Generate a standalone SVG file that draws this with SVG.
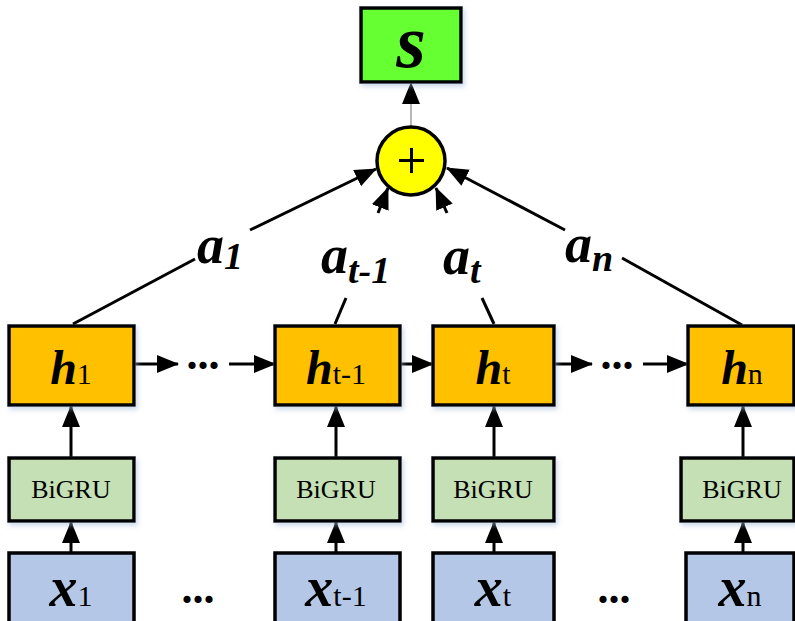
<svg xmlns="http://www.w3.org/2000/svg" width="795" height="621" viewBox="0 0 795 621">
<style>
.box{stroke:#000;stroke-width:3.5}
.h{fill:#FFC000}
.g{fill:#C5E0B4}
.x{fill:#B4C7E7}
.ln{stroke:#000;stroke-width:3;fill:none}
text{font-family:'Liberation Serif','Times New Roman','DejaVu Serif',serif;fill:#000}
.bi{font-weight:bold;font-style:italic}
.rg{font-weight:normal;font-style:normal}
</style>
<defs>
<marker id="ar" markerUnits="userSpaceOnUse" markerWidth="22" markerHeight="20" refX="21" refY="10" orient="auto">
<path d="M0,1 L22,10 L0,19 Z" fill="#000"/>
</marker>
<filter id="sh" x="-10%" y="-10%" width="130%" height="130%">
<feDropShadow dx="2" dy="3" stdDeviation="2.5" flood-color="#9db4d8" flood-opacity="0.5"/>
</filter>
</defs>
<rect width="795" height="621" fill="#fff"/>

<g id="connectors">
<line x1="411" y1="126" x2="411" y2="83" stroke="#888" stroke-width="1.2" marker-end="url(#ar)"/>
<line class="ln" x1="73" y1="324" x2="195" y2="259"/>
<line class="ln" x1="250" y1="230" x2="376" y2="169" marker-end="url(#ar)"/>
<line class="ln" x1="335" y1="324" x2="346" y2="298"/>
<line class="ln" x1="378" y1="213" x2="388" y2="188" marker-end="url(#ar)"/>
<line class="ln" x1="494" y1="324" x2="482" y2="298"/>
<line class="ln" x1="447" y1="213" x2="436" y2="188" marker-end="url(#ar)"/>
<line class="ln" x1="742" y1="325" x2="622" y2="258"/>
<line class="ln" x1="565" y1="230" x2="447" y2="168" marker-end="url(#ar)"/>
<line class="ln" x1="134" y1="364" x2="178" y2="364" marker-end="url(#ar)"/>
<line class="ln" x1="229" y1="364" x2="275" y2="364" marker-end="url(#ar)"/>
<line class="ln" x1="400" y1="364" x2="433" y2="364" marker-end="url(#ar)"/>
<line class="ln" x1="554" y1="364" x2="592" y2="364" marker-end="url(#ar)"/>
<line class="ln" x1="643" y1="364" x2="688" y2="364" marker-end="url(#ar)"/>
<line class="ln" x1="71" y1="458" x2="71" y2="406" marker-end="url(#ar)"/>
<line class="ln" x1="336" y1="458" x2="336" y2="406" marker-end="url(#ar)"/>
<line class="ln" x1="494" y1="458" x2="494" y2="406" marker-end="url(#ar)"/>
<line class="ln" x1="743" y1="458" x2="743" y2="406" marker-end="url(#ar)"/>
<line class="ln" x1="71" y1="553" x2="71" y2="522" marker-end="url(#ar)"/>
<line class="ln" x1="336" y1="553" x2="336" y2="522" marker-end="url(#ar)"/>
<line class="ln" x1="494" y1="553" x2="494" y2="522" marker-end="url(#ar)"/>
<line class="ln" x1="743" y1="553" x2="743" y2="522" marker-end="url(#ar)"/>
</g>

<g id="labels">
<text x="197" y="263" class="bi" font-size="54">a<tspan font-size="38" dy="6">1</tspan></text>
<text x="321" y="273" class="bi" font-size="54">a<tspan font-size="38" dy="10">t-1</tspan></text>
<text x="443" y="274" class="bi" font-size="54">a<tspan font-size="38" dy="9">t</tspan></text>
<text x="565" y="262" class="bi" font-size="54">a<tspan font-size="38" dy="9">n</tspan></text>
<text x="203" y="369" font-weight="bold" font-size="44" text-anchor="middle">...</text>
<text x="617" y="369" font-weight="bold" font-size="44" text-anchor="middle">...</text>
<text x="198" y="603" font-weight="bold" font-size="44" text-anchor="middle">...</text>
<text x="614" y="603" font-weight="bold" font-size="44" text-anchor="middle">...</text>
</g>

<g id="node-s">
<rect x="361" y="8" width="100" height="74" fill="#66FF33" class="box" filter="url(#sh)"/>
<text x="411" y="67" class="bi" font-size="76" text-anchor="middle">s</text>
</g>

<g id="node-sum">
<circle cx="411" cy="161" r="34" fill="#FFFF00" stroke="#000" stroke-width="3.5"/>
<line x1="399" y1="160.5" x2="424" y2="160.5" stroke="#000" stroke-width="3"/>
<line x1="411.5" y1="148" x2="411.5" y2="173" stroke="#000" stroke-width="3"/>
</g>

<g id="node-h1">
<rect x="9" y="326" width="125" height="79" class="box h" filter="url(#sh)"/>
<text x="71" y="384" class="bi" font-size="48" text-anchor="middle">h<tspan class="rg" font-size="30">1</tspan></text>
</g>
<g id="node-ht1">
<rect x="275" y="326" width="125" height="79" class="box h" filter="url(#sh)"/>
<text x="336" y="384" class="bi" font-size="48" text-anchor="middle">h<tspan class="rg" font-size="30">t-1</tspan></text>
</g>
<g id="node-ht">
<rect x="433" y="326" width="121" height="79" class="box h" filter="url(#sh)"/>
<text x="493" y="384" class="bi" font-size="48" text-anchor="middle">h<tspan class="rg" font-size="30">t</tspan></text>
</g>
<g id="node-hn">
<rect x="688" y="326" width="106" height="79" class="box h" filter="url(#sh)"/>
<text x="742" y="384" class="bi" font-size="48" text-anchor="middle">h<tspan class="rg" font-size="30">n</tspan></text>
</g>

<g id="node-g1">
<rect x="9" y="458" width="125" height="63" class="box g" filter="url(#sh)"/>
<text x="71" y="498" class="rg" font-size="26" text-anchor="middle">BiGRU</text>
</g>
<g id="node-gt1">
<rect x="275" y="458" width="125" height="63" class="box g" filter="url(#sh)"/>
<text x="336" y="498" class="rg" font-size="26" text-anchor="middle">BiGRU</text>
</g>
<g id="node-gt">
<rect x="433" y="458" width="121" height="63" class="box g" filter="url(#sh)"/>
<text x="493" y="498" class="rg" font-size="26" text-anchor="middle">BiGRU</text>
</g>
<g id="node-gn">
<rect x="681" y="458" width="113" height="63" class="box g" filter="url(#sh)"/>
<text x="742" y="498" class="rg" font-size="26" text-anchor="middle">BiGRU</text>
</g>

<g id="node-x1">
<rect x="9" y="553" width="125" height="75" class="box x"/>
<text x="71" y="606" class="bi" font-size="56" text-anchor="middle">x<tspan class="rg" font-size="30">1</tspan></text>
</g>
<g id="node-xt1">
<rect x="275" y="553" width="125" height="75" class="box x"/>
<text x="336" y="606" class="bi" font-size="56" text-anchor="middle">x<tspan class="rg" font-size="30">t-1</tspan></text>
</g>
<g id="node-xt">
<rect x="433" y="553" width="121" height="75" class="box x"/>
<text x="493" y="606" class="bi" font-size="56" text-anchor="middle">x<tspan class="rg" font-size="30">t</tspan></text>
</g>
<g id="node-xn">
<rect x="686" y="553" width="108" height="75" class="box x"/>
<text x="740" y="606" class="bi" font-size="56" text-anchor="middle">x<tspan class="rg" font-size="30">n</tspan></text>
</g>
</svg>
